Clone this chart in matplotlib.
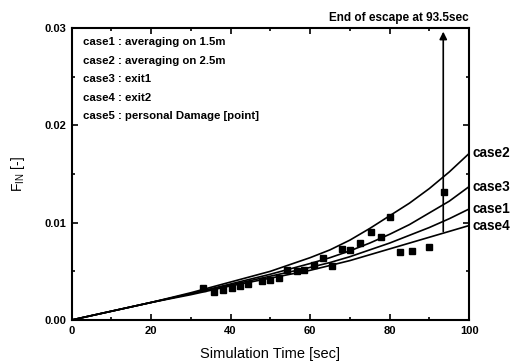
import matplotlib
matplotlib.use('Agg')
import matplotlib.pyplot as plt
from matplotlib.ticker import MultipleLocator, FormatStrFormatter

plt.rcParams['font.family'] = ['Liberation Sans', 'DejaVu Sans']
plt.rcParams['mathtext.default'] = 'regular'

# curves
t = [0, 10, 20, 30, 40, 50, 60, 65, 70, 75, 80, 85, 90, 95, 100]
case1 = [0, 0.0009, 0.0018, 0.0027, 0.0036, 0.0045, 0.0054, 0.0059, 0.0065, 0.0072, 0.0079, 0.0087, 0.0095, 0.0104, 0.0114]
case2 = [0, 0.0009, 0.0018, 0.0028, 0.0039, 0.0050, 0.0064, 0.0072, 0.0082, 0.0094, 0.0107, 0.0120, 0.0135, 0.0152, 0.0171]
case3 = [0, 0.0009, 0.0018, 0.0027, 0.0037, 0.0047, 0.0058, 0.0064, 0.0071, 0.0079, 0.0088, 0.0098, 0.0110, 0.0122, 0.0137]
case4 = [0, 0.0009, 0.0018, 0.0026, 0.0035, 0.0043, 0.0051, 0.0056, 0.0061, 0.0067, 0.0073, 0.0079, 0.0085, 0.0091, 0.0097]
curve_names = ['case2', 'case3', 'case1', 'case4']

# case5 : personal damage points
pt_t = [33.1, 35.8, 38.1, 40.3, 42.4, 44.4, 47.9, 49.9, 52.3, 54.2, 56.7, 58.5,
        60.9, 63.2, 65.5, 68.0, 70.1, 72.6, 75.3, 77.8, 80.2, 82.5, 85.7, 89.9, 93.6]
pt_f = [0.00325, 0.0029, 0.0031, 0.0033, 0.0035, 0.0037, 0.0040, 0.0041, 0.0043, 0.0051,
        0.0050, 0.0051, 0.0057, 0.0064, 0.0055, 0.0073, 0.0072, 0.0079, 0.0090, 0.0085,
        0.0106, 0.0070, 0.0071, 0.0075, 0.0131]

legend_lines = ['case1 : averaging on 1.5m', 'case2 : averaging on 2.5m', 'case3 : exit1',
                'case4 : exit2', 'case5 : personal Damage [point]']
t_end = 93.5
f_arrow_start = 0.0088

fig = plt.figure(figsize=(5.11, 3.62), dpi=100)
ax = fig.add_axes([0.140, 0.116, 0.778, 0.807])

series = {'case1': case1, 'case2': case2, 'case3': case3, 'case4': case4}
for name in curve_names:
    ax.plot(t, series[name], color='black', lw=1.2)
    ax.text(100.8, series[name][-1], name, fontsize=9.8, fontweight='bold',
            va='center', ha='left', clip_on=False)

ax.plot(pt_t, pt_f, 's', color='black', markersize=4.2, lw=0)

ax.annotate('', xy=(t_end, 0.0299), xytext=(t_end, f_arrow_start),
            arrowprops=dict(arrowstyle='-|>', color='black', lw=1.2, mutation_scale=11))
ax.text(1.0, 1.012, 'End of escape at 93.5sec', transform=ax.transAxes, ha='right', va='bottom',
        fontsize=8.5, fontweight='bold')

for i, s in enumerate(legend_lines):
    ax.text(0.028, 0.95 - i * 0.063, s, transform=ax.transAxes, fontsize=8.2, fontweight='bold',
            va='center', ha='left')

ax.set_xlim(0, 100)
ax.set_ylim(0, 0.03)
ax.xaxis.set_major_locator(MultipleLocator(20))
ax.xaxis.set_minor_locator(MultipleLocator(10))
ax.yaxis.set_major_locator(MultipleLocator(0.01))
ax.yaxis.set_minor_locator(MultipleLocator(0.005))
ax.yaxis.set_major_formatter(FormatStrFormatter('%.2f'))
ax.tick_params(which='both', direction='in', top=True, right=True, width=1.2)
ax.tick_params(which='major', length=4, labelsize=8, pad=4)
ax.tick_params(which='minor', length=2.5)
for lab in ax.get_xticklabels() + ax.get_yticklabels():
    lab.set_fontweight('bold')
for sp in ax.spines.values():
    sp.set_linewidth(1.5)

ax.set_xlabel('Simulation Time [sec]', fontsize=10.5, labelpad=8)
ax.set_ylabel('F$_{IN}$ [-]', fontsize=10, labelpad=12)

fig.savefig('out.png', dpi=100)
